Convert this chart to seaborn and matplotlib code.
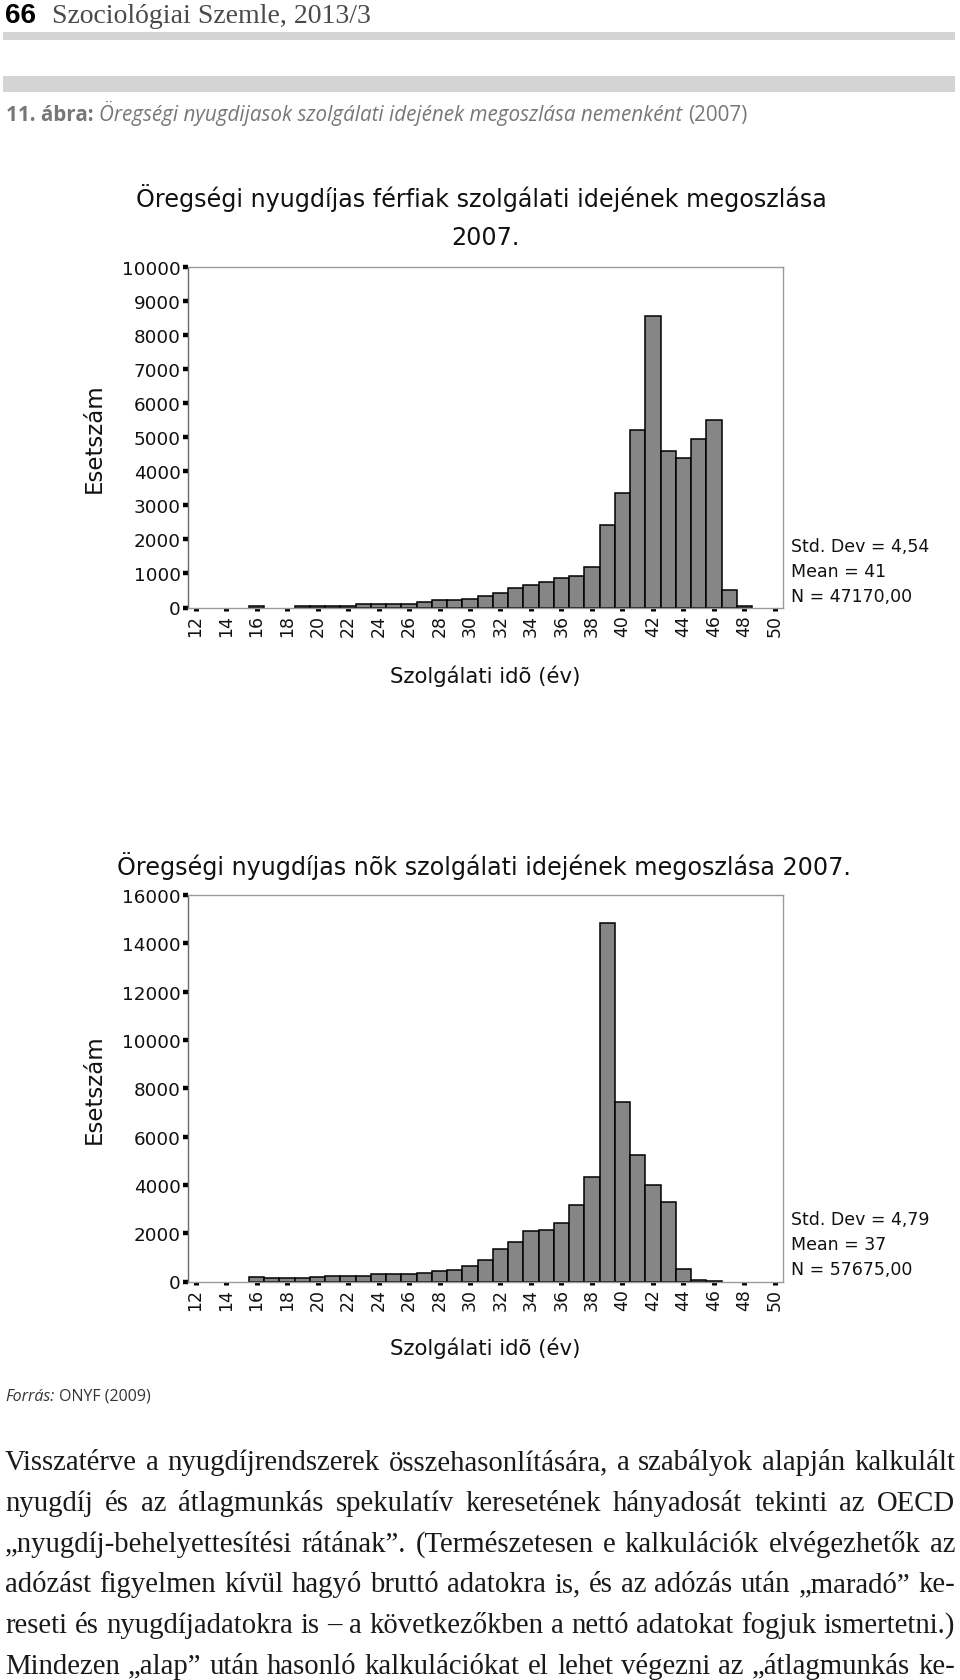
import numpy as np
import pandas as pd
import seaborn as sns
import matplotlib
matplotlib.use("Agg")
import matplotlib.pyplot as plt
from matplotlib.patches import Rectangle

# ---------------- data ----------------
years = list(range(12, 51))
male_counts = [0, 0, 0, 0, 40, 0, 0, 30, 30, 30, 30, 110, 110, 110, 110, 150, 210, 210,
               240, 340, 420, 575, 655, 755, 855, 935, 1180, 2430, 3360, 5210, 8570,
               4590, 4400, 4960, 5520, 520, 30, 0, 0]
female_counts = [0, 0, 0, 0, 170, 140, 140, 140, 170, 210, 210, 210, 295, 295, 295, 365,
                 435, 490, 630, 910, 1360, 1655, 2105, 2150, 2430, 3170, 4320, 14850,
                 7450, 5230, 4000, 3300, 533, 70, 40, 0, 0, 0, 0]
xticks = list(range(12, 51, 2))
male_yticks = list(range(0, 10001, 1000))
female_yticks = list(range(0, 16001, 2000))
male_stats = ["Std. Dev = 4,54", "Mean = 41", "N = 47170,00"]
female_stats = ["Std. Dev = 4,79", "Mean = 37", "N = 57675,00"]
male_title = ["Öregségi nyugdíjas férfiak szolgálati idejének megoszlása", "2007."]
female_title = "Öregségi nyugdíjas nõk szolgálati idejének megoszlása 2007."
ylabel = "Esetszám"
xlabel = "Szolgálati idõ (év)"
header_num = "66"
header_journal = "Szociológiai Szemle, 2013/3"
caption_parts = ["11. ábra:", "Öregségi nyugdijasok szolgálati idejének megoszlása nemenként", "(2007)"]
source_parts = ["Forrás:", "ONYF (2009)"]
body_lines = [
    "Visszatérve a nyugdíjrendszerek összehasonlítására, a szabályok alapján kalkulált",
    "nyugdíj és az átlagmunkás spekulatív keresetének hányadosát tekinti az OECD",
    "„nyugdíj-behelyettesítési rátának”. (Természetesen e kalkulációk elvégezhetők az",
    "adózást figyelmen kívül hagyó bruttó adatokra is, és az adózás után „maradó” ke-",
    "reseti és nyugdíjadatokra is – a következőkben a nettó adatokat fogjuk ismertetni.)",
    "Mindezen „alap” után hasonló kalkulációkat el lehet végezni az „átlagmunkás ke-",
]

# ---------------- setup ----------------
sns.set_theme(style="white")
plt.rcParams["font.family"] = ["DejaVu Sans"]

W, H = 960, 1681
fig = plt.figure(figsize=(W / 100, H / 100), dpi=100)
fig.patch.set_facecolor("white")


def fy(y):
    return 1 - y / H


renderer = fig.canvas.get_renderer()


def width_of(t):
    return t.get_window_extent(renderer).width


# header
fig.text(5 / W, fy(23), header_num, fontsize=20, fontweight="bold",
         family=["Liberation Sans Narrow", "DejaVu Sans Condensed", "Liberation Sans"],
         color="black", va="baseline", ha="left")
fig.text(52 / W, fy(23), header_journal, fontsize=20, family=["Liberation Serif"],
         color="#4a4a4a", va="baseline", ha="left")
fig.add_artist(Rectangle((3 / W, fy(41)), 952 / W, 8 / H, transform=fig.transFigure,
                         facecolor="#d4d4d4", edgecolor="none"))
fig.add_artist(Rectangle((3 / W, fy(93)), 952 / W, 16 / H, transform=fig.transFigure,
                         facecolor="#d4d4d4", edgecolor="none"))


def place_parts(parts, styles, x0, y, target_width, base_size, family, color, gap_em=0.27):
    texts = [fig.text(0, fy(y), p, fontsize=base_size, family=family, color=color,
                      va="baseline", ha="left", **st) for p, st in zip(parts, styles)]
    total = sum(width_of(t) for t in texts) + gap_em * base_size * 100 / 72 * (len(parts) - 1)
    size = base_size * target_width / total
    for t in texts:
        t.set_fontsize(size)
    x = x0
    for t in texts:
        t.set_x(x / W)
        x += width_of(t) + gap_em * size * 100 / 72


place_parts(caption_parts, [dict(fontweight="bold"), dict(style="italic"), dict()],
            6, 121, 744, 12.5, ["Open Sans", "DejaVu Sans"], "#777777")
place_parts(source_parts, [dict(style="italic"), dict()],
            5, 1401, 145, 11, ["Open Sans", "DejaVu Sans"], "#333333")


# ---------------- charts ----------------
def draw_hist(rect, counts, yticks, ymax):
    ax = fig.add_axes(rect)
    df = pd.DataFrame({"year": years, "count": counts})
    sns.histplot(data=df, x="year", weights="count", discrete=True, ax=ax,
                 color="#868686", edgecolor="black", linewidth=1.1, alpha=1)
    for p in ax.patches:
        if p.get_height() == 0:
            p.set_linewidth(0)
    ax.set_xlim(11.5, 50.5)
    ax.set_ylim(0, ymax)
    ax.set_xticks(xticks)
    ax.set_xticklabels([str(v) for v in xticks], rotation=90)
    ax.set_yticks(yticks)
    ax.set_yticklabels([str(v) for v in yticks])
    ax.tick_params(axis="y", direction="out", length=3.6, width=3.2, color="black",
                   pad=1.5, labelsize=13.2, left=True, labelcolor="#111111")
    ax.tick_params(axis="x", direction="out", length=2.2, width=3.6, color="black",
                   pad=2.5, labelsize=12.5, bottom=True, labelcolor="#111111")
    for s in ax.spines.values():
        s.set_color("#9a9a9a")
        s.set_linewidth(1)
    ax.spines["left"].set_color("#6a6a6a")
    ax.set_ylabel(ylabel, fontsize=16.5, color="#111111")
    ax.set_xlabel(xlabel, fontsize=15.3, color="#111111")
    ax.grid(False)
    return ax


axL, axR = 188, 782.5
m_top, m_bot = 268, 608.5
f_top, f_bot = 896, 1282.5
ax1 = draw_hist([axL / W, fy(m_bot), (axR - axL) / W, (m_bot - m_top) / H],
                male_counts, male_yticks, 10000)
ax2 = draw_hist([axL / W, fy(f_bot), (axR - axL) / W, (f_bot - f_top) / H],
                female_counts, female_yticks, 16000)

for ax, top, bot, xl_y in [(ax1, m_top, m_bot, 676), (ax2, f_top, f_bot, 1348)]:
    h = bot - top
    ax.yaxis.label.set_va("center")
    ax.yaxis.set_label_coords((94 - axL) / (axR - axL), 0.5)
    ax.xaxis.label.set_va("center")
    ax.xaxis.set_label_coords(0.5, -(xl_y - bot) / h)

# titles
fig.text(481 / W, fy(198), male_title[0], fontsize=17.2, ha="center", va="center", color="#111111")
fig.text(485 / W, fy(238), male_title[1], fontsize=17.2, ha="center", va="center", color="#111111")
fig.text(484 / W, fy(866), female_title, fontsize=17.2, ha="center", va="center", color="#111111")

# stats
for lines, ys in [(male_stats, [547, 572, 597]), (female_stats, [1220, 1245, 1270])]:
    for s, y in zip(lines, ys):
        fig.text(791 / W, fy(y), s, fontsize=12.5, ha="left", va="center", color="#111111")

# ---------------- body text (justified) ----------------
body_family = ["Liberation Serif", "DejaVu Serif"]
x0, x1 = 5, 955
size = 19.0
tmp = [fig.text(0, 0, ln, fontsize=size, family=body_family) for ln in body_lines]
maxw = max(width_of(t) for t in tmp)
for t in tmp:
    t.remove()
size = size * (x1 - x0 - 4) / maxw
baselines = [1470, 1511, 1552, 1592, 1633, 1674]
for ln, yb in zip(body_lines, baselines):
    words = ln.split(" ")
    ts = [fig.text(0, fy(yb), w, fontsize=size, family=body_family, color="#1a1a1a",
                   va="baseline", ha="left") for w in words]
    ws = [width_of(t) for t in ts]
    gap = (x1 - x0 - sum(ws)) / (len(words) - 1)
    x = x0
    for t, w in zip(ts, ws):
        t.set_x(x / W)
        x += w + gap

fig.savefig("out.png", dpi=100, facecolor="white")
